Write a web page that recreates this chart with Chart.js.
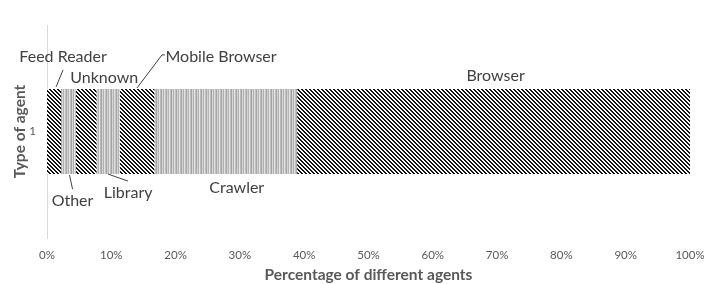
<!DOCTYPE html>
<html>
<head>
<meta charset="utf-8">
<script src="https://cdn.jsdelivr.net/npm/chart.js@4.4.1/dist/chart.umd.min.js"></script>
<style>
  html, body { margin: 0; padding: 0; background: #fff; }
  #wrap { width: 704px; height: 284px; }
</style>
</head>
<body>
<div id="wrap"><canvas id="chart" width="704" height="284"></canvas></div>
<script>
const categories = ['1'];
const agentTypes = ['Feed Reader', 'Other', 'Unknown', 'Library', 'Mobile Browser', 'Crawler', 'Browser'];
const agentShares = [2.2, 2.3, 3.2, 3.6, 5.4, 22.2, 61.1];
const tickValues = [0, 10, 20, 30, 40, 50, 60, 70, 80, 90, 100];

// fill style per segment: diagonal hatch or grey vertical stripes
const fillKinds = ['diag', 'vert', 'diag', 'vert', 'diag', 'vert', 'diag'];

// where each label goes relative to its segment (top/bottom edge of the bar)
const labelPlacement = [
  { side: 'top', tx: 9, ty: -32, lead: [[2, -2], [9, -19]] },
  { side: 'bottom', tx: 4, ty: 27, lead: [[1, 1], [4, 15]] },
  { side: 'top', tx: 18, ty: -11, lead: null },
  { side: 'bottom', tx: 20, ty: 19, lead: [[0, 0], [20, 7]] },
  { side: 'top', tx: 84, ty: -32, lead: [[0, -1], [25, -34], [28, -34]] },
  { side: 'bottom', tx: 11, ty: 14, lead: null },
  { side: 'top', tx: 2, ty: -13, lead: null }
];

function diagPattern() {
  const c = document.createElement('canvas');
  c.width = 4; c.height = 4;
  const g = c.getContext('2d');
  g.fillStyle = '#ffffff';
  g.fillRect(0, 0, 4, 4);
  g.fillStyle = '#111111';
  for (let y = 0; y < 4; y++) {
    for (let x = 0; x < 4; x++) {
      const k = ((x - y) % 4 + 4) % 4;
      if (k === 0 || k === 1) g.fillRect(x, y, 1, 1);
    }
  }
  return g.createPattern(c, 'repeat');
}

function vertPattern() {
  const greys = ['#bcbcbc', '#a4a4a4', '#d6d6d6', '#b0b0b0', '#e2e2e2', '#c0c0c0', '#a8a8a8', '#d2d2d2', '#b4b4b4', '#e6e6e6'];
  const c = document.createElement('canvas');
  c.width = greys.length; c.height = 4;
  const g = c.getContext('2d');
  greys.forEach((col, i) => {
    g.fillStyle = col;
    g.fillRect(i, 0, 1, 4);
  });
  return g.createPattern(c, 'repeat');
}

const diag = diagPattern();
const vert = vertPattern();

const datasets = agentTypes.map((name, i) => ({
  label: name,
  data: [agentShares[i]],
  backgroundColor: fillKinds[i] === 'diag' ? diag : vert,
  borderWidth: 0,
  categoryPercentage: 1,
  barPercentage: 0.40
}));

const segmentLabels = {
  id: 'segmentLabels',
  afterDatasetsDraw(chart) {
    const ctx = chart.ctx;
    ctx.save();
    ctx.font = '16px Lato';
    ctx.fillStyle = '#404040';
    ctx.strokeStyle = '#404040';
    ctx.lineWidth = 1;
    ctx.textAlign = 'center';
    ctx.textBaseline = 'middle';
    chart.data.datasets.forEach((ds, i) => {
      const bar = chart.getDatasetMeta(i).data[0];
      const cx = (bar.x + bar.base) / 2;
      const top = bar.y - bar.height / 2;
      const bottom = bar.y + bar.height / 2;
      const p = labelPlacement[i];
      const ey = p.side === 'top' ? top : bottom;
      if (p.lead) {
        ctx.beginPath();
        p.lead.forEach(([dx, dy], j) => {
          if (j === 0) ctx.moveTo(cx + dx, ey + dy);
          else ctx.lineTo(cx + dx, ey + dy);
        });
        ctx.stroke();
      }
      ctx.fillText(ds.label, cx + p.tx, ey + p.ty);
    });
    ctx.restore();
  }
};

new Chart(document.getElementById('chart'), {
  type: 'bar',
  data: { labels: categories, datasets: datasets },
  options: {
    indexAxis: 'y',
    responsive: false,
    animation: false,
    layout: { padding: { top: 25, right: 0, left: 12, bottom: 1 } },
    plugins: {
      legend: { display: false },
      tooltip: { enabled: false }
    },
    scales: {
      x: {
        stacked: true,
        min: 0,
        max: 100,
        afterBuildTicks(axis) {
          axis.ticks = tickValues.map(v => ({ value: v }));
        },
        afterFit(axis) {
          axis.height = 45;
          axis.paddingRight = 14;
        },
        grid: { display: false, drawTicks: true, tickLength: 10 },
        border: { display: false },
        ticks: {
          color: '#595959',
          font: { family: 'Lato', size: 11.5, lineHeight: 1 },
          padding: 2,
          maxRotation: 0,
          callback: v => v + '%'
        },
        title: {
          display: true,
          text: 'Percentage of different agents',
          color: '#595959',
          font: { family: 'Lato', size: 15.5, weight: 'bold', lineHeight: 1 },
          padding: { top: 0, bottom: 0 }
        }
      },
      y: {
        stacked: true,
        afterFit(axis) { axis.width = 35; },
        grid: { display: false, drawTicks: false },
        border: { display: true, color: '#d9d9d9', width: 1 },
        ticks: {
          color: '#595959',
          font: { family: 'Lato', size: 11.5 },
          padding: 11
        },
        title: {
          display: true,
          text: 'Type of agent',
          color: '#595959',
          font: { family: 'Lato', size: 15.5, weight: 'bold', lineHeight: 1 },
          padding: { top: 0, bottom: 0 }
        }
      }
    }
  },
  plugins: [segmentLabels]
});
</script>
</body>
</html>
